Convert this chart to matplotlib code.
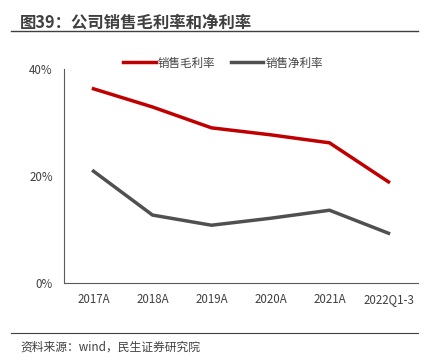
import matplotlib
matplotlib.use("Agg")
import matplotlib.pyplot as plt
from matplotlib.lines import Line2D
from matplotlib.ticker import FuncFormatter

plt.rcParams['font.family'] = ['Noto Sans CJK SC', 'DejaVu Sans']

years = ["2017A", "2018A", "2019A", "2020A", "2021A", "2022Q1-3"]
gross_margin = [36.3, 32.9, 29.0, 27.7, 26.2, 18.9]
net_margin = [20.9, 12.7, 10.8, 12.1, 13.6, 9.3]
y_ticks = [0, 20, 40]

fig = plt.figure(figsize=(4.36, 3.62), dpi=100)
ax = fig.add_axes([64 / 436, 1 - 283 / 362, (418 - 64) / 436, (283 - 69) / 362])

x = range(len(years))
ax.plot(x, gross_margin, color="#C00000", lw=2.5, label="销售毛利率")
ax.plot(x, net_margin, color="#505050", lw=2.5, label="销售净利率")

ax.set_xlim(-0.5, len(years) - 0.5)
ax.set_ylim(0, 40)
ax.set_yticks(y_ticks)
ax.yaxis.set_major_formatter(FuncFormatter(lambda v, p: f"{v:.0f}%"))
ax.set_xticks(list(x))
ax.set_xticklabels(years)
ax.tick_params(axis="both", length=0, labelsize=8.3, colors="#404040")
ax.tick_params(axis="x", pad=7)
ax.tick_params(axis="y", pad=8)
for s in ["top", "right"]:
    ax.spines[s].set_visible(False)
for s in ["left", "bottom"]:
    ax.spines[s].set_color("#595959")
    ax.spines[s].set_linewidth(0.8)

ax.legend(loc="center left", bbox_to_anchor=(0.168, 1.028), ncol=2, frameon=False,
          fontsize=8.3, handlelength=2.8, handletextpad=0.2, columnspacing=1.3,
          borderaxespad=0, borderpad=0, labelcolor="#404040")

# title and source
fig.text(20 / 436, 1 - 23 / 362, "图39：公司销售毛利率和净利率", fontsize=11.8,
         fontweight="bold", color="#404040", va="center", ha="left")
fig.add_artist(Line2D([11 / 436, 418 / 436], [1 - 31 / 362, 1 - 31 / 362],
                      color="#404040", lw=1.0))
fig.add_artist(Line2D([11 / 436, 418 / 436], [1 - 333 / 362, 1 - 333 / 362],
                      color="#404040", lw=0.8))
fig.text(20 / 436, 1 - 347 / 362, "资料来源：wind，民生证券研究院", fontsize=8.5,
         color="#404040", va="center", ha="left")

fig.savefig("out.png", dpi=100)
